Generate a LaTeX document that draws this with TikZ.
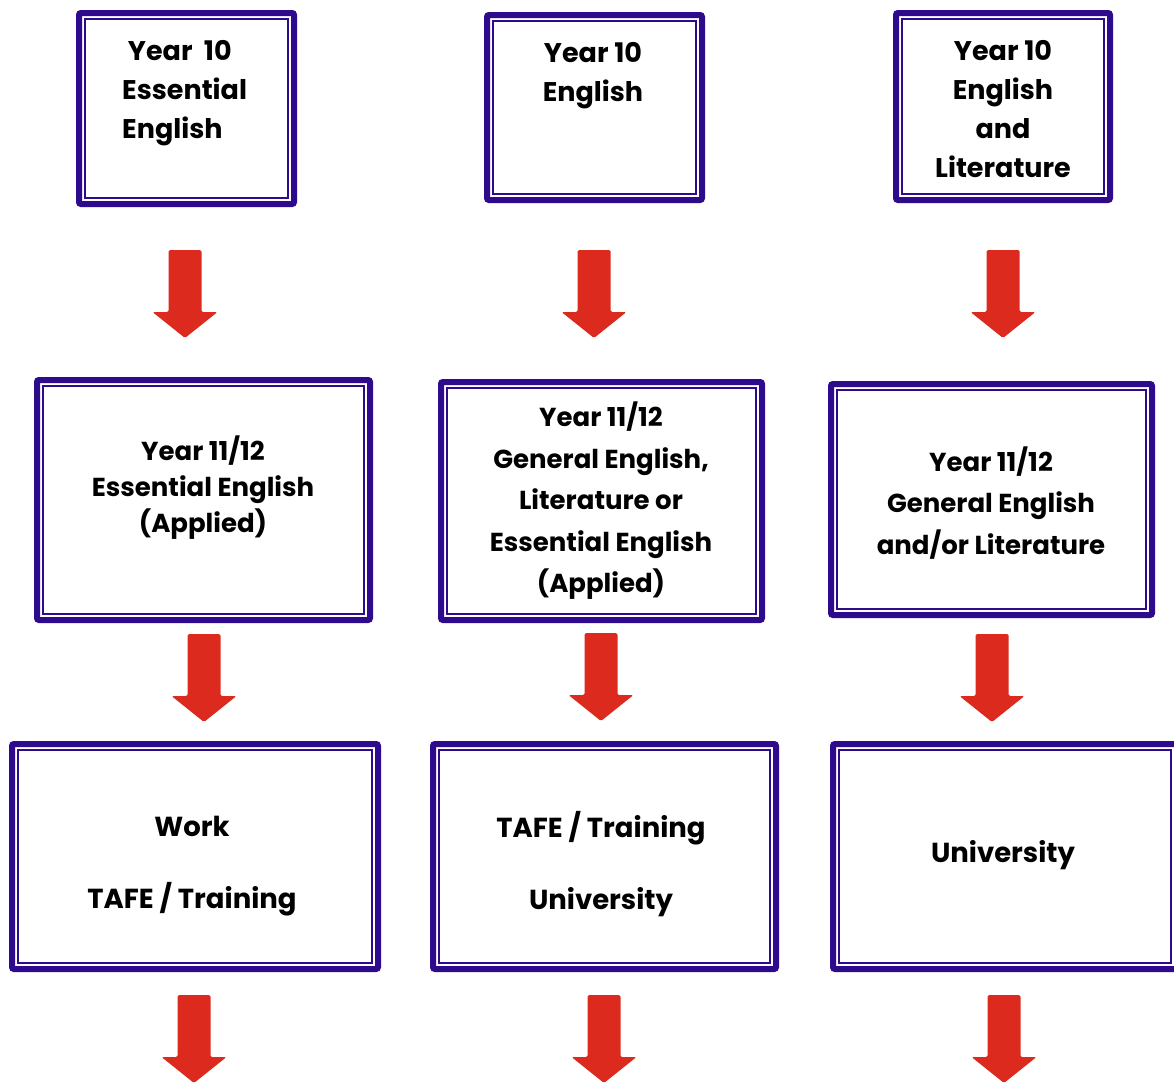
\documentclass[tikz,border=0pt]{standalone}
\usepackage{fontspec}
\setmainfont{Poppins}
\definecolor{boxpurple}{HTML}{2E0A8C}
\definecolor{arrowred}{HTML}{DC2A1F}

\begin{document}
\begin{tikzpicture}[x=1pt, y=-1pt,
    pbox/.style={draw=boxpurple, line width=6pt, rounded corners=2pt, inner sep=0pt, outer sep=0pt},
    pinner/.style={draw=boxpurple, line width=1.8pt},
    toptext/.style={font=\bfseries\fontsize{27}{39}\selectfont, inner sep=0pt},
    midtext/.style={font=\bfseries\fontsize{26}{41.5}\selectfont, align=center, inner sep=0pt},
    endtext/.style={font=\bfseries\fontsize{27.5}{36}\selectfont, align=center, inner sep=0pt}]

    \useasboundingbox (0,0) rectangle (1174,1082);
    \clip (0,0) rectangle (1174,1082);

    \node[pbox, minimum width=215, minimum height=191] (ess10) at (186.5,108.5) {};
    \node[pbox, minimum width=215, minimum height=185] (eng10) at (594.5,107.5) {};
    \node[pbox, minimum width=214, minimum height=187] (lit10) at (1003,106.5) {};
    \node[pbox, minimum width=333, minimum height=240] (ess11) at (203.5,500) {};
    \node[pbox, minimum width=321, minimum height=238] (gen11) at (601.5,501) {};
    \node[pbox, minimum width=321, minimum height=231] (lit11) at (991.5,499.5) {};
    \node[pbox, minimum width=366, minimum height=225] (work) at (195,856.5) {};
    \node[pbox, minimum width=343, minimum height=225] (tafe) at (604.5,856.5) {};
    \node[pbox, minimum width=344, minimum height=225] (uni) at (1005,856.5) {};

    \foreach \b in {ess10,eng10,lit10,ess11,gen11,lit11,work,tafe,uni}
      \draw[pinner] ([shift={(6,6)}]\b.north west) rectangle ([shift={(-6,-6)}]\b.south east);

    \node[toptext, align=left, anchor=west] (ess10t) at (122,93) {\ Year\ \ 10\\Essential\\English};
    \node[toptext, align=center] (eng10t) at (593,76) {Year 10\\English};
    \node[toptext, align=center] (lit10t) at (1003,109.5) {Year 10\\English\\and\\Literature};

    \node[midtext, font=\bfseries\fontsize{26}{36}\selectfont] (ess11t) at (203,488) {Year 11/12\\Essential English\\(Applied)};
    \node[midtext] (gen11t) at (601,501) {Year 11/12\\General English,\\Literature or\\Essential English\\(Applied)};
    \node[midtext] (lit11t) at (991,503) {Year 11/12\\General English\\and/or Literature};

    \node[endtext] (workt) at (192,866) {Work\\[36pt]TAFE / Training};
    \node[endtext] (tafet) at (601,864) {TAFE / Training\\[36pt]University};
    \node[endtext] (unit) at (1003,855) {University};

    \foreach \x/\y in {185/250, 594/250, 1003/250, 204/634, 601/633, 992/634, 194/995, 604/995, 1004/995}
      \fill[arrowred, rounded corners=1.5pt] (\x-16.5,\y) -- (\x+16.5,\y) -- (\x+16.5,\y+62)
        -- (\x+32.5,\y+62) -- (\x,\y+88) -- (\x-32.5,\y+62) -- (\x-16.5,\y+62) -- cycle;
\end{tikzpicture}
\end{document}
